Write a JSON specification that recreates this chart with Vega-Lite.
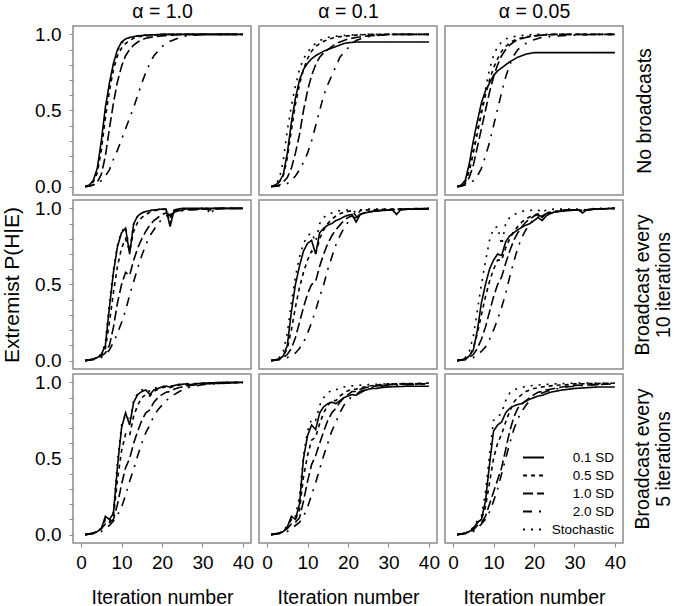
{
"$schema":"https://vega.github.io/schema/vega-lite/v6.json",
"background":"white",
"padding":{"left":0,"top":0,"right":0,"bottom":0},
"bounds":"flush",
"columns":3,
"spacing":{"row":5,"column":8},
"datasets":{"d":[
{"p":1,"s":"0.1 SD","x":1,"y":0},{"p":1,"s":"0.1 SD","x":2,"y":0.01},{"p":1,"s":"0.1 SD","x":3,"y":0.04},{"p":1,"s":"0.1 SD","x":4,"y":0.12},{"p":1,"s":"0.1 SD","x":5,"y":0.3},{"p":1,"s":"0.1 SD","x":6,"y":0.52},{"p":1,"s":"0.1 SD","x":7,"y":0.68},{"p":1,"s":"0.1 SD","x":8,"y":0.81},{"p":1,"s":"0.1 SD","x":9,"y":0.9},{"p":1,"s":"0.1 SD","x":10,"y":0.95},{"p":1,"s":"0.1 SD","x":11,"y":0.97},{"p":1,"s":"0.1 SD","x":12,"y":0.98},{"p":1,"s":"0.1 SD","x":14,"y":0.99},{"p":1,"s":"0.1 SD","x":16,"y":0.995},{"p":1,"s":"0.1 SD","x":20,"y":1},{"p":1,"s":"0.1 SD","x":40,"y":1},
{"p":1,"s":"Stochastic","x":1,"y":0},{"p":1,"s":"Stochastic","x":2,"y":0.01},{"p":1,"s":"Stochastic","x":3,"y":0.035},{"p":1,"s":"Stochastic","x":4,"y":0.1},{"p":1,"s":"Stochastic","x":5,"y":0.27},{"p":1,"s":"Stochastic","x":6,"y":0.48},{"p":1,"s":"Stochastic","x":7,"y":0.66},{"p":1,"s":"Stochastic","x":8,"y":0.8},{"p":1,"s":"Stochastic","x":9,"y":0.89},{"p":1,"s":"Stochastic","x":10,"y":0.94},{"p":1,"s":"Stochastic","x":11,"y":0.97},{"p":1,"s":"Stochastic","x":12,"y":0.98},{"p":1,"s":"Stochastic","x":14,"y":0.99},{"p":1,"s":"Stochastic","x":16,"y":0.995},{"p":1,"s":"Stochastic","x":20,"y":1},{"p":1,"s":"Stochastic","x":40,"y":1},
{"p":1,"s":"0.5 SD","x":1,"y":0},{"p":1,"s":"0.5 SD","x":2,"y":0.01},{"p":1,"s":"0.5 SD","x":3,"y":0.03},{"p":1,"s":"0.5 SD","x":4,"y":0.09},{"p":1,"s":"0.5 SD","x":5,"y":0.24},{"p":1,"s":"0.5 SD","x":6,"y":0.45},{"p":1,"s":"0.5 SD","x":7,"y":0.63},{"p":1,"s":"0.5 SD","x":8,"y":0.77},{"p":1,"s":"0.5 SD","x":9,"y":0.86},{"p":1,"s":"0.5 SD","x":10,"y":0.91},{"p":1,"s":"0.5 SD","x":11,"y":0.94},{"p":1,"s":"0.5 SD","x":12,"y":0.96},{"p":1,"s":"0.5 SD","x":13,"y":0.975},{"p":1,"s":"0.5 SD","x":14,"y":0.985},{"p":1,"s":"0.5 SD","x":16,"y":0.99},{"p":1,"s":"0.5 SD","x":18,"y":0.995},{"p":1,"s":"0.5 SD","x":20,"y":1},{"p":1,"s":"0.5 SD","x":40,"y":1},
{"p":1,"s":"1.0 SD","x":1,"y":0},{"p":1,"s":"1.0 SD","x":2,"y":0.005},{"p":1,"s":"1.0 SD","x":3,"y":0.01},{"p":1,"s":"1.0 SD","x":4,"y":0.03},{"p":1,"s":"1.0 SD","x":5,"y":0.08},{"p":1,"s":"1.0 SD","x":6,"y":0.2},{"p":1,"s":"1.0 SD","x":7,"y":0.38},{"p":1,"s":"1.0 SD","x":8,"y":0.55},{"p":1,"s":"1.0 SD","x":9,"y":0.69},{"p":1,"s":"1.0 SD","x":10,"y":0.79},{"p":1,"s":"1.0 SD","x":11,"y":0.86},{"p":1,"s":"1.0 SD","x":12,"y":0.9},{"p":1,"s":"1.0 SD","x":13,"y":0.93},{"p":1,"s":"1.0 SD","x":14,"y":0.95},{"p":1,"s":"1.0 SD","x":15,"y":0.965},{"p":1,"s":"1.0 SD","x":16,"y":0.975},{"p":1,"s":"1.0 SD","x":18,"y":0.985},{"p":1,"s":"1.0 SD","x":20,"y":0.99},{"p":1,"s":"1.0 SD","x":22,"y":0.995},{"p":1,"s":"1.0 SD","x":25,"y":1},{"p":1,"s":"1.0 SD","x":40,"y":1},
{"p":1,"s":"2.0 SD","x":1,"y":0},{"p":1,"s":"2.0 SD","x":2,"y":0.003},{"p":1,"s":"2.0 SD","x":3,"y":0.01},{"p":1,"s":"2.0 SD","x":4,"y":0.02},{"p":1,"s":"2.0 SD","x":5,"y":0.04},{"p":1,"s":"2.0 SD","x":6,"y":0.07},{"p":1,"s":"2.0 SD","x":7,"y":0.11},{"p":1,"s":"2.0 SD","x":8,"y":0.18},{"p":1,"s":"2.0 SD","x":9,"y":0.24},{"p":1,"s":"2.0 SD","x":10,"y":0.31},{"p":1,"s":"2.0 SD","x":11,"y":0.38},{"p":1,"s":"2.0 SD","x":12,"y":0.45},{"p":1,"s":"2.0 SD","x":13,"y":0.52},{"p":1,"s":"2.0 SD","x":14,"y":0.6},{"p":1,"s":"2.0 SD","x":15,"y":0.68},{"p":1,"s":"2.0 SD","x":16,"y":0.75},{"p":1,"s":"2.0 SD","x":17,"y":0.81},{"p":1,"s":"2.0 SD","x":18,"y":0.86},{"p":1,"s":"2.0 SD","x":19,"y":0.89},{"p":1,"s":"2.0 SD","x":20,"y":0.92},{"p":1,"s":"2.0 SD","x":21,"y":0.94},{"p":1,"s":"2.0 SD","x":22,"y":0.955},{"p":1,"s":"2.0 SD","x":23,"y":0.965},{"p":1,"s":"2.0 SD","x":24,"y":0.975},{"p":1,"s":"2.0 SD","x":25,"y":0.985},{"p":1,"s":"2.0 SD","x":26,"y":0.99},{"p":1,"s":"2.0 SD","x":28,"y":0.995},{"p":1,"s":"2.0 SD","x":30,"y":1},{"p":1,"s":"2.0 SD","x":40,"y":1},

{"p":2,"s":"0.1 SD","x":1,"y":0},{"p":2,"s":"0.1 SD","x":2,"y":0.01},{"p":2,"s":"0.1 SD","x":3,"y":0.03},{"p":2,"s":"0.1 SD","x":4,"y":0.08},{"p":2,"s":"0.1 SD","x":5,"y":0.22},{"p":2,"s":"0.1 SD","x":6,"y":0.42},{"p":2,"s":"0.1 SD","x":7,"y":0.58},{"p":2,"s":"0.1 SD","x":8,"y":0.7},{"p":2,"s":"0.1 SD","x":9,"y":0.77},{"p":2,"s":"0.1 SD","x":10,"y":0.81},{"p":2,"s":"0.1 SD","x":11,"y":0.84},{"p":2,"s":"0.1 SD","x":12,"y":0.86},{"p":2,"s":"0.1 SD","x":13,"y":0.875},{"p":2,"s":"0.1 SD","x":14,"y":0.89},{"p":2,"s":"0.1 SD","x":15,"y":0.9},{"p":2,"s":"0.1 SD","x":16,"y":0.91},{"p":2,"s":"0.1 SD","x":17,"y":0.92},{"p":2,"s":"0.1 SD","x":18,"y":0.93},{"p":2,"s":"0.1 SD","x":19,"y":0.94},{"p":2,"s":"0.1 SD","x":20,"y":0.945},{"p":2,"s":"0.1 SD","x":22,"y":0.95},{"p":2,"s":"0.1 SD","x":40,"y":0.95},
{"p":2,"s":"Stochastic","x":1,"y":0},{"p":2,"s":"Stochastic","x":2,"y":0.01},{"p":2,"s":"Stochastic","x":3,"y":0.05},{"p":2,"s":"Stochastic","x":4,"y":0.17},{"p":2,"s":"Stochastic","x":5,"y":0.37},{"p":2,"s":"Stochastic","x":6,"y":0.53},{"p":2,"s":"Stochastic","x":7,"y":0.66},{"p":2,"s":"Stochastic","x":8,"y":0.77},{"p":2,"s":"Stochastic","x":9,"y":0.84},{"p":2,"s":"Stochastic","x":10,"y":0.88},{"p":2,"s":"Stochastic","x":11,"y":0.92},{"p":2,"s":"Stochastic","x":12,"y":0.94},{"p":2,"s":"Stochastic","x":13,"y":0.96},{"p":2,"s":"Stochastic","x":14,"y":0.97},{"p":2,"s":"Stochastic","x":15,"y":0.98},{"p":2,"s":"Stochastic","x":16,"y":0.985},{"p":2,"s":"Stochastic","x":18,"y":0.99},{"p":2,"s":"Stochastic","x":20,"y":0.995},{"p":2,"s":"Stochastic","x":25,"y":1},{"p":2,"s":"Stochastic","x":40,"y":1},
{"p":2,"s":"0.5 SD","x":1,"y":0},{"p":2,"s":"0.5 SD","x":2,"y":0.01},{"p":2,"s":"0.5 SD","x":3,"y":0.03},{"p":2,"s":"0.5 SD","x":4,"y":0.07},{"p":2,"s":"0.5 SD","x":5,"y":0.19},{"p":2,"s":"0.5 SD","x":6,"y":0.37},{"p":2,"s":"0.5 SD","x":7,"y":0.54},{"p":2,"s":"0.5 SD","x":8,"y":0.67},{"p":2,"s":"0.5 SD","x":9,"y":0.77},{"p":2,"s":"0.5 SD","x":10,"y":0.84},{"p":2,"s":"0.5 SD","x":11,"y":0.89},{"p":2,"s":"0.5 SD","x":12,"y":0.92},{"p":2,"s":"0.5 SD","x":13,"y":0.94},{"p":2,"s":"0.5 SD","x":14,"y":0.955},{"p":2,"s":"0.5 SD","x":15,"y":0.965},{"p":2,"s":"0.5 SD","x":16,"y":0.975},{"p":2,"s":"0.5 SD","x":18,"y":0.985},{"p":2,"s":"0.5 SD","x":20,"y":0.99},{"p":2,"s":"0.5 SD","x":22,"y":0.995},{"p":2,"s":"0.5 SD","x":25,"y":1},{"p":2,"s":"0.5 SD","x":40,"y":1},
{"p":2,"s":"1.0 SD","x":1,"y":0},{"p":2,"s":"1.0 SD","x":2,"y":0.005},{"p":2,"s":"1.0 SD","x":3,"y":0.01},{"p":2,"s":"1.0 SD","x":4,"y":0.03},{"p":2,"s":"1.0 SD","x":5,"y":0.06},{"p":2,"s":"1.0 SD","x":6,"y":0.12},{"p":2,"s":"1.0 SD","x":7,"y":0.22},{"p":2,"s":"1.0 SD","x":8,"y":0.34},{"p":2,"s":"1.0 SD","x":9,"y":0.5},{"p":2,"s":"1.0 SD","x":10,"y":0.63},{"p":2,"s":"1.0 SD","x":11,"y":0.73},{"p":2,"s":"1.0 SD","x":12,"y":0.8},{"p":2,"s":"1.0 SD","x":13,"y":0.85},{"p":2,"s":"1.0 SD","x":14,"y":0.88},{"p":2,"s":"1.0 SD","x":15,"y":0.9},{"p":2,"s":"1.0 SD","x":16,"y":0.92},{"p":2,"s":"1.0 SD","x":17,"y":0.94},{"p":2,"s":"1.0 SD","x":18,"y":0.95},{"p":2,"s":"1.0 SD","x":20,"y":0.97},{"p":2,"s":"1.0 SD","x":22,"y":0.98},{"p":2,"s":"1.0 SD","x":25,"y":0.99},{"p":2,"s":"1.0 SD","x":30,"y":1},{"p":2,"s":"1.0 SD","x":40,"y":1},
{"p":2,"s":"2.0 SD","x":1,"y":0},{"p":2,"s":"2.0 SD","x":3,"y":0.005},{"p":2,"s":"2.0 SD","x":4,"y":0.01},{"p":2,"s":"2.0 SD","x":5,"y":0.02},{"p":2,"s":"2.0 SD","x":6,"y":0.04},{"p":2,"s":"2.0 SD","x":7,"y":0.07},{"p":2,"s":"2.0 SD","x":8,"y":0.11},{"p":2,"s":"2.0 SD","x":9,"y":0.16},{"p":2,"s":"2.0 SD","x":10,"y":0.22},{"p":2,"s":"2.0 SD","x":11,"y":0.3},{"p":2,"s":"2.0 SD","x":12,"y":0.4},{"p":2,"s":"2.0 SD","x":13,"y":0.5},{"p":2,"s":"2.0 SD","x":14,"y":0.6},{"p":2,"s":"2.0 SD","x":15,"y":0.67},{"p":2,"s":"2.0 SD","x":16,"y":0.73},{"p":2,"s":"2.0 SD","x":17,"y":0.79},{"p":2,"s":"2.0 SD","x":18,"y":0.85},{"p":2,"s":"2.0 SD","x":19,"y":0.88},{"p":2,"s":"2.0 SD","x":20,"y":0.91},{"p":2,"s":"2.0 SD","x":21,"y":0.94},{"p":2,"s":"2.0 SD","x":22,"y":0.96},{"p":2,"s":"2.0 SD","x":23,"y":0.97},{"p":2,"s":"2.0 SD","x":24,"y":0.98},{"p":2,"s":"2.0 SD","x":26,"y":0.99},{"p":2,"s":"2.0 SD","x":30,"y":1},{"p":2,"s":"2.0 SD","x":40,"y":1},

{"p":3,"s":"0.1 SD","x":1,"y":0},{"p":3,"s":"0.1 SD","x":2,"y":0.01},{"p":3,"s":"0.1 SD","x":3,"y":0.04},{"p":3,"s":"0.1 SD","x":4,"y":0.15},{"p":3,"s":"0.1 SD","x":5,"y":0.3},{"p":3,"s":"0.1 SD","x":6,"y":0.43},{"p":3,"s":"0.1 SD","x":7,"y":0.55},{"p":3,"s":"0.1 SD","x":8,"y":0.63},{"p":3,"s":"0.1 SD","x":9,"y":0.68},{"p":3,"s":"0.1 SD","x":10,"y":0.73},{"p":3,"s":"0.1 SD","x":11,"y":0.76},{"p":3,"s":"0.1 SD","x":12,"y":0.78},{"p":3,"s":"0.1 SD","x":13,"y":0.8},{"p":3,"s":"0.1 SD","x":14,"y":0.82},{"p":3,"s":"0.1 SD","x":15,"y":0.835},{"p":3,"s":"0.1 SD","x":16,"y":0.85},{"p":3,"s":"0.1 SD","x":17,"y":0.86},{"p":3,"s":"0.1 SD","x":18,"y":0.87},{"p":3,"s":"0.1 SD","x":19,"y":0.875},{"p":3,"s":"0.1 SD","x":20,"y":0.88},{"p":3,"s":"0.1 SD","x":40,"y":0.88},
{"p":3,"s":"Stochastic","x":1,"y":0},{"p":3,"s":"Stochastic","x":2,"y":0.01},{"p":3,"s":"Stochastic","x":3,"y":0.04},{"p":3,"s":"Stochastic","x":4,"y":0.12},{"p":3,"s":"Stochastic","x":5,"y":0.25},{"p":3,"s":"Stochastic","x":6,"y":0.38},{"p":3,"s":"Stochastic","x":7,"y":0.51},{"p":3,"s":"Stochastic","x":8,"y":0.64},{"p":3,"s":"Stochastic","x":9,"y":0.77},{"p":3,"s":"Stochastic","x":10,"y":0.86},{"p":3,"s":"Stochastic","x":11,"y":0.92},{"p":3,"s":"Stochastic","x":12,"y":0.95},{"p":3,"s":"Stochastic","x":13,"y":0.97},{"p":3,"s":"Stochastic","x":14,"y":0.98},{"p":3,"s":"Stochastic","x":15,"y":0.985},{"p":3,"s":"Stochastic","x":16,"y":0.99},{"p":3,"s":"Stochastic","x":18,"y":0.995},{"p":3,"s":"Stochastic","x":20,"y":1},{"p":3,"s":"Stochastic","x":40,"y":1},
{"p":3,"s":"0.5 SD","x":1,"y":0},{"p":3,"s":"0.5 SD","x":2,"y":0.01},{"p":3,"s":"0.5 SD","x":3,"y":0.03},{"p":3,"s":"0.5 SD","x":4,"y":0.1},{"p":3,"s":"0.5 SD","x":5,"y":0.22},{"p":3,"s":"0.5 SD","x":6,"y":0.35},{"p":3,"s":"0.5 SD","x":7,"y":0.48},{"p":3,"s":"0.5 SD","x":8,"y":0.6},{"p":3,"s":"0.5 SD","x":9,"y":0.7},{"p":3,"s":"0.5 SD","x":10,"y":0.78},{"p":3,"s":"0.5 SD","x":11,"y":0.84},{"p":3,"s":"0.5 SD","x":12,"y":0.89},{"p":3,"s":"0.5 SD","x":13,"y":0.92},{"p":3,"s":"0.5 SD","x":14,"y":0.945},{"p":3,"s":"0.5 SD","x":15,"y":0.96},{"p":3,"s":"0.5 SD","x":16,"y":0.97},{"p":3,"s":"0.5 SD","x":18,"y":0.985},{"p":3,"s":"0.5 SD","x":20,"y":0.99},{"p":3,"s":"0.5 SD","x":22,"y":0.995},{"p":3,"s":"0.5 SD","x":25,"y":1},{"p":3,"s":"0.5 SD","x":40,"y":1},
{"p":3,"s":"1.0 SD","x":1,"y":0},{"p":3,"s":"1.0 SD","x":2,"y":0.005},{"p":3,"s":"1.0 SD","x":3,"y":0.02},{"p":3,"s":"1.0 SD","x":4,"y":0.06},{"p":3,"s":"1.0 SD","x":5,"y":0.14},{"p":3,"s":"1.0 SD","x":6,"y":0.26},{"p":3,"s":"1.0 SD","x":7,"y":0.38},{"p":3,"s":"1.0 SD","x":8,"y":0.5},{"p":3,"s":"1.0 SD","x":9,"y":0.62},{"p":3,"s":"1.0 SD","x":10,"y":0.72},{"p":3,"s":"1.0 SD","x":11,"y":0.8},{"p":3,"s":"1.0 SD","x":12,"y":0.86},{"p":3,"s":"1.0 SD","x":13,"y":0.9},{"p":3,"s":"1.0 SD","x":14,"y":0.93},{"p":3,"s":"1.0 SD","x":15,"y":0.95},{"p":3,"s":"1.0 SD","x":16,"y":0.965},{"p":3,"s":"1.0 SD","x":18,"y":0.98},{"p":3,"s":"1.0 SD","x":20,"y":0.99},{"p":3,"s":"1.0 SD","x":22,"y":0.995},{"p":3,"s":"1.0 SD","x":25,"y":1},{"p":3,"s":"1.0 SD","x":40,"y":1},
{"p":3,"s":"2.0 SD","x":1,"y":0},{"p":3,"s":"2.0 SD","x":2,"y":0.003},{"p":3,"s":"2.0 SD","x":3,"y":0.01},{"p":3,"s":"2.0 SD","x":4,"y":0.02},{"p":3,"s":"2.0 SD","x":5,"y":0.04},{"p":3,"s":"2.0 SD","x":6,"y":0.07},{"p":3,"s":"2.0 SD","x":7,"y":0.12},{"p":3,"s":"2.0 SD","x":8,"y":0.2},{"p":3,"s":"2.0 SD","x":9,"y":0.29},{"p":3,"s":"2.0 SD","x":10,"y":0.4},{"p":3,"s":"2.0 SD","x":11,"y":0.51},{"p":3,"s":"2.0 SD","x":12,"y":0.62},{"p":3,"s":"2.0 SD","x":13,"y":0.72},{"p":3,"s":"2.0 SD","x":14,"y":0.8},{"p":3,"s":"2.0 SD","x":15,"y":0.86},{"p":3,"s":"2.0 SD","x":16,"y":0.9},{"p":3,"s":"2.0 SD","x":17,"y":0.92},{"p":3,"s":"2.0 SD","x":18,"y":0.94},{"p":3,"s":"2.0 SD","x":19,"y":0.955},{"p":3,"s":"2.0 SD","x":20,"y":0.965},{"p":3,"s":"2.0 SD","x":22,"y":0.98},{"p":3,"s":"2.0 SD","x":24,"y":0.985},{"p":3,"s":"2.0 SD","x":26,"y":0.99},{"p":3,"s":"2.0 SD","x":30,"y":0.995},{"p":3,"s":"2.0 SD","x":35,"y":1},{"p":3,"s":"2.0 SD","x":40,"y":1},

{"p":4,"s":"0.1 SD","x":1,"y":0},{"p":4,"s":"0.1 SD","x":2,"y":0.005},{"p":4,"s":"0.1 SD","x":3,"y":0.01},{"p":4,"s":"0.1 SD","x":4,"y":0.02},{"p":4,"s":"0.1 SD","x":5,"y":0.04},{"p":4,"s":"0.1 SD","x":6,"y":0.1},{"p":4,"s":"0.1 SD","x":7,"y":0.35},{"p":4,"s":"0.1 SD","x":8,"y":0.58},{"p":4,"s":"0.1 SD","x":9,"y":0.75},{"p":4,"s":"0.1 SD","x":10,"y":0.84},{"p":4,"s":"0.1 SD","x":11,"y":0.87},{"p":4,"s":"0.1 SD","x":12,"y":0.7},{"p":4,"s":"0.1 SD","x":13,"y":0.9},{"p":4,"s":"0.1 SD","x":14,"y":0.95},{"p":4,"s":"0.1 SD","x":15,"y":0.97},{"p":4,"s":"0.1 SD","x":16,"y":0.98},{"p":4,"s":"0.1 SD","x":17,"y":0.985},{"p":4,"s":"0.1 SD","x":18,"y":0.99},{"p":4,"s":"0.1 SD","x":20,"y":0.995},{"p":4,"s":"0.1 SD","x":21,"y":0.995},{"p":4,"s":"0.1 SD","x":22,"y":0.88},{"p":4,"s":"0.1 SD","x":23,"y":0.99},{"p":4,"s":"0.1 SD","x":24,"y":0.995},{"p":4,"s":"0.1 SD","x":25,"y":1},{"p":4,"s":"0.1 SD","x":40,"y":1},
{"p":4,"s":"Stochastic","x":1,"y":0},{"p":4,"s":"Stochastic","x":2,"y":0.005},{"p":4,"s":"Stochastic","x":3,"y":0.01},{"p":4,"s":"Stochastic","x":4,"y":0.02},{"p":4,"s":"Stochastic","x":5,"y":0.04},{"p":4,"s":"Stochastic","x":6,"y":0.12},{"p":4,"s":"Stochastic","x":7,"y":0.38},{"p":4,"s":"Stochastic","x":8,"y":0.6},{"p":4,"s":"Stochastic","x":9,"y":0.76},{"p":4,"s":"Stochastic","x":10,"y":0.85},{"p":4,"s":"Stochastic","x":11,"y":0.88},{"p":4,"s":"Stochastic","x":12,"y":0.72},{"p":4,"s":"Stochastic","x":13,"y":0.9},{"p":4,"s":"Stochastic","x":14,"y":0.95},{"p":4,"s":"Stochastic","x":15,"y":0.97},{"p":4,"s":"Stochastic","x":16,"y":0.98},{"p":4,"s":"Stochastic","x":18,"y":0.99},{"p":4,"s":"Stochastic","x":20,"y":0.995},{"p":4,"s":"Stochastic","x":21,"y":0.995},{"p":4,"s":"Stochastic","x":22,"y":0.9},{"p":4,"s":"Stochastic","x":23,"y":0.99},{"p":4,"s":"Stochastic","x":25,"y":0.995},{"p":4,"s":"Stochastic","x":30,"y":1},{"p":4,"s":"Stochastic","x":31,"y":1},{"p":4,"s":"Stochastic","x":32,"y":0.96},{"p":4,"s":"Stochastic","x":33,"y":1},{"p":4,"s":"Stochastic","x":40,"y":1},
{"p":4,"s":"0.5 SD","x":1,"y":0},{"p":4,"s":"0.5 SD","x":2,"y":0.005},{"p":4,"s":"0.5 SD","x":3,"y":0.01},{"p":4,"s":"0.5 SD","x":4,"y":0.02},{"p":4,"s":"0.5 SD","x":5,"y":0.04},{"p":4,"s":"0.5 SD","x":6,"y":0.08},{"p":4,"s":"0.5 SD","x":7,"y":0.25},{"p":4,"s":"0.5 SD","x":8,"y":0.45},{"p":4,"s":"0.5 SD","x":9,"y":0.62},{"p":4,"s":"0.5 SD","x":10,"y":0.74},{"p":4,"s":"0.5 SD","x":11,"y":0.8},{"p":4,"s":"0.5 SD","x":12,"y":0.72},{"p":4,"s":"0.5 SD","x":13,"y":0.85},{"p":4,"s":"0.5 SD","x":14,"y":0.91},{"p":4,"s":"0.5 SD","x":15,"y":0.94},{"p":4,"s":"0.5 SD","x":16,"y":0.96},{"p":4,"s":"0.5 SD","x":17,"y":0.975},{"p":4,"s":"0.5 SD","x":18,"y":0.985},{"p":4,"s":"0.5 SD","x":19,"y":0.99},{"p":4,"s":"0.5 SD","x":21,"y":0.995},{"p":4,"s":"0.5 SD","x":22,"y":0.93},{"p":4,"s":"0.5 SD","x":23,"y":0.985},{"p":4,"s":"0.5 SD","x":24,"y":0.99},{"p":4,"s":"0.5 SD","x":26,"y":0.995},{"p":4,"s":"0.5 SD","x":31,"y":1},{"p":4,"s":"0.5 SD","x":32,"y":0.99},{"p":4,"s":"0.5 SD","x":33,"y":1},{"p":4,"s":"0.5 SD","x":40,"y":1},
{"p":4,"s":"1.0 SD","x":1,"y":0},{"p":4,"s":"1.0 SD","x":2,"y":0.005},{"p":4,"s":"1.0 SD","x":3,"y":0.01},{"p":4,"s":"1.0 SD","x":4,"y":0.02},{"p":4,"s":"1.0 SD","x":5,"y":0.03},{"p":4,"s":"1.0 SD","x":6,"y":0.05},{"p":4,"s":"1.0 SD","x":7,"y":0.1},{"p":4,"s":"1.0 SD","x":8,"y":0.22},{"p":4,"s":"1.0 SD","x":9,"y":0.38},{"p":4,"s":"1.0 SD","x":10,"y":0.5},{"p":4,"s":"1.0 SD","x":11,"y":0.58},{"p":4,"s":"1.0 SD","x":12,"y":0.56},{"p":4,"s":"1.0 SD","x":13,"y":0.66},{"p":4,"s":"1.0 SD","x":14,"y":0.74},{"p":4,"s":"1.0 SD","x":15,"y":0.8},{"p":4,"s":"1.0 SD","x":16,"y":0.85},{"p":4,"s":"1.0 SD","x":17,"y":0.89},{"p":4,"s":"1.0 SD","x":18,"y":0.92},{"p":4,"s":"1.0 SD","x":19,"y":0.94},{"p":4,"s":"1.0 SD","x":20,"y":0.96},{"p":4,"s":"1.0 SD","x":21,"y":0.97},{"p":4,"s":"1.0 SD","x":22,"y":0.95},{"p":4,"s":"1.0 SD","x":23,"y":0.975},{"p":4,"s":"1.0 SD","x":24,"y":0.985},{"p":4,"s":"1.0 SD","x":26,"y":0.99},{"p":4,"s":"1.0 SD","x":31,"y":0.995},{"p":4,"s":"1.0 SD","x":32,"y":0.99},{"p":4,"s":"1.0 SD","x":33,"y":0.995},{"p":4,"s":"1.0 SD","x":35,"y":1},{"p":4,"s":"1.0 SD","x":40,"y":1},
{"p":4,"s":"2.0 SD","x":1,"y":0},{"p":4,"s":"2.0 SD","x":2,"y":0.003},{"p":4,"s":"2.0 SD","x":3,"y":0.006},{"p":4,"s":"2.0 SD","x":4,"y":0.01},{"p":4,"s":"2.0 SD","x":5,"y":0.02},{"p":4,"s":"2.0 SD","x":6,"y":0.04},{"p":4,"s":"2.0 SD","x":7,"y":0.07},{"p":4,"s":"2.0 SD","x":8,"y":0.12},{"p":4,"s":"2.0 SD","x":9,"y":0.18},{"p":4,"s":"2.0 SD","x":10,"y":0.25},{"p":4,"s":"2.0 SD","x":11,"y":0.33},{"p":4,"s":"2.0 SD","x":12,"y":0.43},{"p":4,"s":"2.0 SD","x":13,"y":0.52},{"p":4,"s":"2.0 SD","x":14,"y":0.61},{"p":4,"s":"2.0 SD","x":15,"y":0.69},{"p":4,"s":"2.0 SD","x":16,"y":0.76},{"p":4,"s":"2.0 SD","x":17,"y":0.82},{"p":4,"s":"2.0 SD","x":18,"y":0.86},{"p":4,"s":"2.0 SD","x":19,"y":0.9},{"p":4,"s":"2.0 SD","x":20,"y":0.93},{"p":4,"s":"2.0 SD","x":21,"y":0.95},{"p":4,"s":"2.0 SD","x":22,"y":0.96},{"p":4,"s":"2.0 SD","x":23,"y":0.97},{"p":4,"s":"2.0 SD","x":24,"y":0.98},{"p":4,"s":"2.0 SD","x":26,"y":0.99},{"p":4,"s":"2.0 SD","x":30,"y":0.995},{"p":4,"s":"2.0 SD","x":35,"y":1},{"p":4,"s":"2.0 SD","x":40,"y":1},

{"p":5,"s":"0.1 SD","x":1,"y":0},{"p":5,"s":"0.1 SD","x":2,"y":0.005},{"p":5,"s":"0.1 SD","x":3,"y":0.01},{"p":5,"s":"0.1 SD","x":4,"y":0.03},{"p":5,"s":"0.1 SD","x":5,"y":0.1},{"p":5,"s":"0.1 SD","x":6,"y":0.32},{"p":5,"s":"0.1 SD","x":7,"y":0.5},{"p":5,"s":"0.1 SD","x":8,"y":0.62},{"p":5,"s":"0.1 SD","x":9,"y":0.72},{"p":5,"s":"0.1 SD","x":10,"y":0.77},{"p":5,"s":"0.1 SD","x":11,"y":0.79},{"p":5,"s":"0.1 SD","x":12,"y":0.7},{"p":5,"s":"0.1 SD","x":13,"y":0.84},{"p":5,"s":"0.1 SD","x":14,"y":0.87},{"p":5,"s":"0.1 SD","x":15,"y":0.89},{"p":5,"s":"0.1 SD","x":16,"y":0.9},{"p":5,"s":"0.1 SD","x":17,"y":0.92},{"p":5,"s":"0.1 SD","x":18,"y":0.93},{"p":5,"s":"0.1 SD","x":19,"y":0.945},{"p":5,"s":"0.1 SD","x":20,"y":0.955},{"p":5,"s":"0.1 SD","x":21,"y":0.96},{"p":5,"s":"0.1 SD","x":22,"y":0.91},{"p":5,"s":"0.1 SD","x":23,"y":0.96},{"p":5,"s":"0.1 SD","x":24,"y":0.97},{"p":5,"s":"0.1 SD","x":25,"y":0.975},{"p":5,"s":"0.1 SD","x":26,"y":0.98},{"p":5,"s":"0.1 SD","x":28,"y":0.985},{"p":5,"s":"0.1 SD","x":31,"y":0.99},{"p":5,"s":"0.1 SD","x":32,"y":0.96},{"p":5,"s":"0.1 SD","x":33,"y":0.99},{"p":5,"s":"0.1 SD","x":35,"y":0.995},{"p":5,"s":"0.1 SD","x":40,"y":0.995},
{"p":5,"s":"Stochastic","x":1,"y":0},{"p":5,"s":"Stochastic","x":2,"y":0.005},{"p":5,"s":"Stochastic","x":3,"y":0.02},{"p":5,"s":"Stochastic","x":4,"y":0.06},{"p":5,"s":"Stochastic","x":5,"y":0.18},{"p":5,"s":"Stochastic","x":6,"y":0.38},{"p":5,"s":"Stochastic","x":7,"y":0.55},{"p":5,"s":"Stochastic","x":8,"y":0.68},{"p":5,"s":"Stochastic","x":9,"y":0.77},{"p":5,"s":"Stochastic","x":10,"y":0.82},{"p":5,"s":"Stochastic","x":11,"y":0.84},{"p":5,"s":"Stochastic","x":12,"y":0.78},{"p":5,"s":"Stochastic","x":13,"y":0.9},{"p":5,"s":"Stochastic","x":14,"y":0.94},{"p":5,"s":"Stochastic","x":15,"y":0.96},{"p":5,"s":"Stochastic","x":16,"y":0.97},{"p":5,"s":"Stochastic","x":17,"y":0.98},{"p":5,"s":"Stochastic","x":18,"y":0.985},{"p":5,"s":"Stochastic","x":21,"y":0.99},{"p":5,"s":"Stochastic","x":22,"y":0.97},{"p":5,"s":"Stochastic","x":23,"y":0.99},{"p":5,"s":"Stochastic","x":25,"y":0.995},{"p":5,"s":"Stochastic","x":31,"y":0.995},{"p":5,"s":"Stochastic","x":32,"y":0.99},{"p":5,"s":"Stochastic","x":33,"y":0.995},{"p":5,"s":"Stochastic","x":40,"y":1},
{"p":5,"s":"0.5 SD","x":1,"y":0},{"p":5,"s":"0.5 SD","x":2,"y":0.005},{"p":5,"s":"0.5 SD","x":3,"y":0.01},{"p":5,"s":"0.5 SD","x":4,"y":0.03},{"p":5,"s":"0.5 SD","x":5,"y":0.08},{"p":5,"s":"0.5 SD","x":6,"y":0.2},{"p":5,"s":"0.5 SD","x":7,"y":0.35},{"p":5,"s":"0.5 SD","x":8,"y":0.48},{"p":5,"s":"0.5 SD","x":9,"y":0.58},{"p":5,"s":"0.5 SD","x":10,"y":0.66},{"p":5,"s":"0.5 SD","x":11,"y":0.72},{"p":5,"s":"0.5 SD","x":12,"y":0.7},{"p":5,"s":"0.5 SD","x":13,"y":0.8},{"p":5,"s":"0.5 SD","x":14,"y":0.86},{"p":5,"s":"0.5 SD","x":15,"y":0.9},{"p":5,"s":"0.5 SD","x":16,"y":0.93},{"p":5,"s":"0.5 SD","x":17,"y":0.95},{"p":5,"s":"0.5 SD","x":18,"y":0.965},{"p":5,"s":"0.5 SD","x":19,"y":0.975},{"p":5,"s":"0.5 SD","x":20,"y":0.98},{"p":5,"s":"0.5 SD","x":21,"y":0.985},{"p":5,"s":"0.5 SD","x":22,"y":0.95},{"p":5,"s":"0.5 SD","x":23,"y":0.985},{"p":5,"s":"0.5 SD","x":25,"y":0.99},{"p":5,"s":"0.5 SD","x":30,"y":0.995},{"p":5,"s":"0.5 SD","x":40,"y":1},
{"p":5,"s":"1.0 SD","x":1,"y":0},{"p":5,"s":"1.0 SD","x":2,"y":0.005},{"p":5,"s":"1.0 SD","x":3,"y":0.01},{"p":5,"s":"1.0 SD","x":4,"y":0.02},{"p":5,"s":"1.0 SD","x":5,"y":0.04},{"p":5,"s":"1.0 SD","x":6,"y":0.08},{"p":5,"s":"1.0 SD","x":7,"y":0.15},{"p":5,"s":"1.0 SD","x":8,"y":0.25},{"p":5,"s":"1.0 SD","x":9,"y":0.35},{"p":5,"s":"1.0 SD","x":10,"y":0.44},{"p":5,"s":"1.0 SD","x":11,"y":0.5},{"p":5,"s":"1.0 SD","x":12,"y":0.52},{"p":5,"s":"1.0 SD","x":13,"y":0.62},{"p":5,"s":"1.0 SD","x":14,"y":0.7},{"p":5,"s":"1.0 SD","x":15,"y":0.77},{"p":5,"s":"1.0 SD","x":16,"y":0.82},{"p":5,"s":"1.0 SD","x":17,"y":0.86},{"p":5,"s":"1.0 SD","x":18,"y":0.89},{"p":5,"s":"1.0 SD","x":19,"y":0.92},{"p":5,"s":"1.0 SD","x":20,"y":0.94},{"p":5,"s":"1.0 SD","x":21,"y":0.95},{"p":5,"s":"1.0 SD","x":22,"y":0.93},{"p":5,"s":"1.0 SD","x":23,"y":0.96},{"p":5,"s":"1.0 SD","x":24,"y":0.97},{"p":5,"s":"1.0 SD","x":25,"y":0.975},{"p":5,"s":"1.0 SD","x":27,"y":0.985},{"p":5,"s":"1.0 SD","x":30,"y":0.99},{"p":5,"s":"1.0 SD","x":35,"y":0.995},{"p":5,"s":"1.0 SD","x":40,"y":1},
{"p":5,"s":"2.0 SD","x":1,"y":0},{"p":5,"s":"2.0 SD","x":2,"y":0.003},{"p":5,"s":"2.0 SD","x":3,"y":0.006},{"p":5,"s":"2.0 SD","x":4,"y":0.01},{"p":5,"s":"2.0 SD","x":5,"y":0.02},{"p":5,"s":"2.0 SD","x":6,"y":0.03},{"p":5,"s":"2.0 SD","x":7,"y":0.05},{"p":5,"s":"2.0 SD","x":8,"y":0.08},{"p":5,"s":"2.0 SD","x":9,"y":0.12},{"p":5,"s":"2.0 SD","x":10,"y":0.18},{"p":5,"s":"2.0 SD","x":11,"y":0.25},{"p":5,"s":"2.0 SD","x":12,"y":0.33},{"p":5,"s":"2.0 SD","x":13,"y":0.42},{"p":5,"s":"2.0 SD","x":14,"y":0.5},{"p":5,"s":"2.0 SD","x":15,"y":0.6},{"p":5,"s":"2.0 SD","x":16,"y":0.68},{"p":5,"s":"2.0 SD","x":17,"y":0.76},{"p":5,"s":"2.0 SD","x":18,"y":0.82},{"p":5,"s":"2.0 SD","x":19,"y":0.87},{"p":5,"s":"2.0 SD","x":20,"y":0.91},{"p":5,"s":"2.0 SD","x":21,"y":0.93},{"p":5,"s":"2.0 SD","x":22,"y":0.94},{"p":5,"s":"2.0 SD","x":23,"y":0.96},{"p":5,"s":"2.0 SD","x":24,"y":0.97},{"p":5,"s":"2.0 SD","x":25,"y":0.98},{"p":5,"s":"2.0 SD","x":27,"y":0.985},{"p":5,"s":"2.0 SD","x":30,"y":0.99},{"p":5,"s":"2.0 SD","x":35,"y":0.995},{"p":5,"s":"2.0 SD","x":40,"y":1},

{"p":6,"s":"0.1 SD","x":1,"y":0},{"p":6,"s":"0.1 SD","x":2,"y":0.005},{"p":6,"s":"0.1 SD","x":3,"y":0.01},{"p":6,"s":"0.1 SD","x":4,"y":0.03},{"p":6,"s":"0.1 SD","x":5,"y":0.07},{"p":6,"s":"0.1 SD","x":6,"y":0.2},{"p":6,"s":"0.1 SD","x":7,"y":0.38},{"p":6,"s":"0.1 SD","x":8,"y":0.5},{"p":6,"s":"0.1 SD","x":9,"y":0.6},{"p":6,"s":"0.1 SD","x":10,"y":0.66},{"p":6,"s":"0.1 SD","x":11,"y":0.7},{"p":6,"s":"0.1 SD","x":12,"y":0.69},{"p":6,"s":"0.1 SD","x":13,"y":0.78},{"p":6,"s":"0.1 SD","x":14,"y":0.82},{"p":6,"s":"0.1 SD","x":15,"y":0.84},{"p":6,"s":"0.1 SD","x":16,"y":0.86},{"p":6,"s":"0.1 SD","x":17,"y":0.875},{"p":6,"s":"0.1 SD","x":18,"y":0.89},{"p":6,"s":"0.1 SD","x":19,"y":0.9},{"p":6,"s":"0.1 SD","x":20,"y":0.92},{"p":6,"s":"0.1 SD","x":21,"y":0.94},{"p":6,"s":"0.1 SD","x":22,"y":0.92},{"p":6,"s":"0.1 SD","x":23,"y":0.95},{"p":6,"s":"0.1 SD","x":24,"y":0.965},{"p":6,"s":"0.1 SD","x":25,"y":0.975},{"p":6,"s":"0.1 SD","x":26,"y":0.98},{"p":6,"s":"0.1 SD","x":28,"y":0.99},{"p":6,"s":"0.1 SD","x":31,"y":0.99},{"p":6,"s":"0.1 SD","x":32,"y":0.97},{"p":6,"s":"0.1 SD","x":33,"y":0.99},{"p":6,"s":"0.1 SD","x":35,"y":0.995},{"p":6,"s":"0.1 SD","x":40,"y":1},
{"p":6,"s":"Stochastic","x":1,"y":0},{"p":6,"s":"Stochastic","x":2,"y":0.005},{"p":6,"s":"Stochastic","x":3,"y":0.02},{"p":6,"s":"Stochastic","x":4,"y":0.06},{"p":6,"s":"Stochastic","x":5,"y":0.16},{"p":6,"s":"Stochastic","x":6,"y":0.33},{"p":6,"s":"Stochastic","x":7,"y":0.5},{"p":6,"s":"Stochastic","x":8,"y":0.65},{"p":6,"s":"Stochastic","x":9,"y":0.79},{"p":6,"s":"Stochastic","x":10,"y":0.87},{"p":6,"s":"Stochastic","x":11,"y":0.88},{"p":6,"s":"Stochastic","x":12,"y":0.76},{"p":6,"s":"Stochastic","x":13,"y":0.9},{"p":6,"s":"Stochastic","x":14,"y":0.94},{"p":6,"s":"Stochastic","x":15,"y":0.96},{"p":6,"s":"Stochastic","x":16,"y":0.97},{"p":6,"s":"Stochastic","x":17,"y":0.98},{"p":6,"s":"Stochastic","x":18,"y":0.985},{"p":6,"s":"Stochastic","x":21,"y":0.99},{"p":6,"s":"Stochastic","x":22,"y":0.97},{"p":6,"s":"Stochastic","x":23,"y":0.99},{"p":6,"s":"Stochastic","x":25,"y":0.995},{"p":6,"s":"Stochastic","x":31,"y":0.995},{"p":6,"s":"Stochastic","x":32,"y":0.99},{"p":6,"s":"Stochastic","x":35,"y":1},{"p":6,"s":"Stochastic","x":40,"y":1},
{"p":6,"s":"0.5 SD","x":1,"y":0},{"p":6,"s":"0.5 SD","x":2,"y":0.005},{"p":6,"s":"0.5 SD","x":3,"y":0.01},{"p":6,"s":"0.5 SD","x":4,"y":0.03},{"p":6,"s":"0.5 SD","x":5,"y":0.08},{"p":6,"s":"0.5 SD","x":6,"y":0.18},{"p":6,"s":"0.5 SD","x":7,"y":0.3},{"p":6,"s":"0.5 SD","x":8,"y":0.42},{"p":6,"s":"0.5 SD","x":9,"y":0.52},{"p":6,"s":"0.5 SD","x":10,"y":0.6},{"p":6,"s":"0.5 SD","x":11,"y":0.66},{"p":6,"s":"0.5 SD","x":12,"y":0.66},{"p":6,"s":"0.5 SD","x":13,"y":0.74},{"p":6,"s":"0.5 SD","x":14,"y":0.8},{"p":6,"s":"0.5 SD","x":15,"y":0.85},{"p":6,"s":"0.5 SD","x":16,"y":0.88},{"p":6,"s":"0.5 SD","x":17,"y":0.91},{"p":6,"s":"0.5 SD","x":18,"y":0.93},{"p":6,"s":"0.5 SD","x":19,"y":0.945},{"p":6,"s":"0.5 SD","x":20,"y":0.955},{"p":6,"s":"0.5 SD","x":21,"y":0.965},{"p":6,"s":"0.5 SD","x":22,"y":0.94},{"p":6,"s":"0.5 SD","x":23,"y":0.97},{"p":6,"s":"0.5 SD","x":25,"y":0.98},{"p":6,"s":"0.5 SD","x":28,"y":0.99},{"p":6,"s":"0.5 SD","x":31,"y":0.99},{"p":6,"s":"0.5 SD","x":32,"y":0.985},{"p":6,"s":"0.5 SD","x":33,"y":0.99},{"p":6,"s":"0.5 SD","x":35,"y":0.995},{"p":6,"s":"0.5 SD","x":40,"y":1},
{"p":6,"s":"1.0 SD","x":1,"y":0},{"p":6,"s":"1.0 SD","x":2,"y":0.005},{"p":6,"s":"1.0 SD","x":3,"y":0.01},{"p":6,"s":"1.0 SD","x":4,"y":0.02},{"p":6,"s":"1.0 SD","x":5,"y":0.04},{"p":6,"s":"1.0 SD","x":6,"y":0.08},{"p":6,"s":"1.0 SD","x":7,"y":0.14},{"p":6,"s":"1.0 SD","x":8,"y":0.22},{"p":6,"s":"1.0 SD","x":9,"y":0.32},{"p":6,"s":"1.0 SD","x":10,"y":0.42},{"p":6,"s":"1.0 SD","x":11,"y":0.5},{"p":6,"s":"1.0 SD","x":12,"y":0.55},{"p":6,"s":"1.0 SD","x":13,"y":0.64},{"p":6,"s":"1.0 SD","x":14,"y":0.72},{"p":6,"s":"1.0 SD","x":15,"y":0.79},{"p":6,"s":"1.0 SD","x":16,"y":0.84},{"p":6,"s":"1.0 SD","x":17,"y":0.88},{"p":6,"s":"1.0 SD","x":18,"y":0.91},{"p":6,"s":"1.0 SD","x":19,"y":0.93},{"p":6,"s":"1.0 SD","x":20,"y":0.95},{"p":6,"s":"1.0 SD","x":21,"y":0.96},{"p":6,"s":"1.0 SD","x":22,"y":0.94},{"p":6,"s":"1.0 SD","x":23,"y":0.965},{"p":6,"s":"1.0 SD","x":25,"y":0.975},{"p":6,"s":"1.0 SD","x":28,"y":0.985},{"p":6,"s":"1.0 SD","x":31,"y":0.99},{"p":6,"s":"1.0 SD","x":32,"y":0.985},{"p":6,"s":"1.0 SD","x":33,"y":0.99},{"p":6,"s":"1.0 SD","x":35,"y":0.995},{"p":6,"s":"1.0 SD","x":40,"y":1},
{"p":6,"s":"2.0 SD","x":1,"y":0},{"p":6,"s":"2.0 SD","x":2,"y":0.003},{"p":6,"s":"2.0 SD","x":3,"y":0.006},{"p":6,"s":"2.0 SD","x":4,"y":0.01},{"p":6,"s":"2.0 SD","x":5,"y":0.02},{"p":6,"s":"2.0 SD","x":6,"y":0.04},{"p":6,"s":"2.0 SD","x":7,"y":0.06},{"p":6,"s":"2.0 SD","x":8,"y":0.09},{"p":6,"s":"2.0 SD","x":9,"y":0.14},{"p":6,"s":"2.0 SD","x":10,"y":0.2},{"p":6,"s":"2.0 SD","x":11,"y":0.27},{"p":6,"s":"2.0 SD","x":12,"y":0.35},{"p":6,"s":"2.0 SD","x":13,"y":0.44},{"p":6,"s":"2.0 SD","x":14,"y":0.55},{"p":6,"s":"2.0 SD","x":15,"y":0.65},{"p":6,"s":"2.0 SD","x":16,"y":0.74},{"p":6,"s":"2.0 SD","x":17,"y":0.81},{"p":6,"s":"2.0 SD","x":18,"y":0.86},{"p":6,"s":"2.0 SD","x":19,"y":0.9},{"p":6,"s":"2.0 SD","x":20,"y":0.93},{"p":6,"s":"2.0 SD","x":21,"y":0.95},{"p":6,"s":"2.0 SD","x":22,"y":0.95},{"p":6,"s":"2.0 SD","x":23,"y":0.965},{"p":6,"s":"2.0 SD","x":25,"y":0.975},{"p":6,"s":"2.0 SD","x":28,"y":0.985},{"p":6,"s":"2.0 SD","x":31,"y":0.99},{"p":6,"s":"2.0 SD","x":32,"y":0.985},{"p":6,"s":"2.0 SD","x":33,"y":0.99},{"p":6,"s":"2.0 SD","x":35,"y":0.995},{"p":6,"s":"2.0 SD","x":40,"y":1},

{"p":7,"s":"0.1 SD","x":1,"y":0},{"p":7,"s":"0.1 SD","x":2,"y":0.005},{"p":7,"s":"0.1 SD","x":3,"y":0.01},{"p":7,"s":"0.1 SD","x":4,"y":0.02},{"p":7,"s":"0.1 SD","x":5,"y":0.04},{"p":7,"s":"0.1 SD","x":6,"y":0.12},{"p":7,"s":"0.1 SD","x":7,"y":0.1},{"p":7,"s":"0.1 SD","x":8,"y":0.14},{"p":7,"s":"0.1 SD","x":9,"y":0.45},{"p":7,"s":"0.1 SD","x":10,"y":0.7},{"p":7,"s":"0.1 SD","x":11,"y":0.8},{"p":7,"s":"0.1 SD","x":12,"y":0.72},{"p":7,"s":"0.1 SD","x":13,"y":0.87},{"p":7,"s":"0.1 SD","x":14,"y":0.92},{"p":7,"s":"0.1 SD","x":15,"y":0.94},{"p":7,"s":"0.1 SD","x":16,"y":0.95},{"p":7,"s":"0.1 SD","x":17,"y":0.92},{"p":7,"s":"0.1 SD","x":18,"y":0.95},{"p":7,"s":"0.1 SD","x":19,"y":0.96},{"p":7,"s":"0.1 SD","x":20,"y":0.97},{"p":7,"s":"0.1 SD","x":21,"y":0.975},{"p":7,"s":"0.1 SD","x":22,"y":0.97},{"p":7,"s":"0.1 SD","x":23,"y":0.98},{"p":7,"s":"0.1 SD","x":24,"y":0.985},{"p":7,"s":"0.1 SD","x":26,"y":0.99},{"p":7,"s":"0.1 SD","x":27,"y":0.985},{"p":7,"s":"0.1 SD","x":28,"y":0.99},{"p":7,"s":"0.1 SD","x":30,"y":0.995},{"p":7,"s":"0.1 SD","x":35,"y":1},{"p":7,"s":"0.1 SD","x":40,"y":1},
{"p":7,"s":"Stochastic","x":1,"y":0},{"p":7,"s":"Stochastic","x":2,"y":0.005},{"p":7,"s":"Stochastic","x":3,"y":0.01},{"p":7,"s":"Stochastic","x":4,"y":0.02},{"p":7,"s":"Stochastic","x":5,"y":0.04},{"p":7,"s":"Stochastic","x":6,"y":0.1},{"p":7,"s":"Stochastic","x":7,"y":0.09},{"p":7,"s":"Stochastic","x":8,"y":0.15},{"p":7,"s":"Stochastic","x":9,"y":0.48},{"p":7,"s":"Stochastic","x":10,"y":0.72},{"p":7,"s":"Stochastic","x":11,"y":0.79},{"p":7,"s":"Stochastic","x":12,"y":0.74},{"p":7,"s":"Stochastic","x":13,"y":0.88},{"p":7,"s":"Stochastic","x":14,"y":0.93},{"p":7,"s":"Stochastic","x":15,"y":0.95},{"p":7,"s":"Stochastic","x":16,"y":0.96},{"p":7,"s":"Stochastic","x":17,"y":0.94},{"p":7,"s":"Stochastic","x":18,"y":0.96},{"p":7,"s":"Stochastic","x":20,"y":0.975},{"p":7,"s":"Stochastic","x":22,"y":0.975},{"p":7,"s":"Stochastic","x":25,"y":0.99},{"p":7,"s":"Stochastic","x":30,"y":0.995},{"p":7,"s":"Stochastic","x":35,"y":1},{"p":7,"s":"Stochastic","x":40,"y":1},
{"p":7,"s":"0.5 SD","x":1,"y":0},{"p":7,"s":"0.5 SD","x":2,"y":0.005},{"p":7,"s":"0.5 SD","x":3,"y":0.01},{"p":7,"s":"0.5 SD","x":4,"y":0.02},{"p":7,"s":"0.5 SD","x":5,"y":0.04},{"p":7,"s":"0.5 SD","x":6,"y":0.1},{"p":7,"s":"0.5 SD","x":7,"y":0.08},{"p":7,"s":"0.5 SD","x":8,"y":0.12},{"p":7,"s":"0.5 SD","x":9,"y":0.36},{"p":7,"s":"0.5 SD","x":10,"y":0.55},{"p":7,"s":"0.5 SD","x":11,"y":0.66},{"p":7,"s":"0.5 SD","x":12,"y":0.65},{"p":7,"s":"0.5 SD","x":13,"y":0.78},{"p":7,"s":"0.5 SD","x":14,"y":0.85},{"p":7,"s":"0.5 SD","x":15,"y":0.9},{"p":7,"s":"0.5 SD","x":16,"y":0.92},{"p":7,"s":"0.5 SD","x":17,"y":0.91},{"p":7,"s":"0.5 SD","x":18,"y":0.94},{"p":7,"s":"0.5 SD","x":19,"y":0.955},{"p":7,"s":"0.5 SD","x":20,"y":0.965},{"p":7,"s":"0.5 SD","x":21,"y":0.97},{"p":7,"s":"0.5 SD","x":22,"y":0.965},{"p":7,"s":"0.5 SD","x":23,"y":0.975},{"p":7,"s":"0.5 SD","x":25,"y":0.985},{"p":7,"s":"0.5 SD","x":27,"y":0.985},{"p":7,"s":"0.5 SD","x":30,"y":0.99},{"p":7,"s":"0.5 SD","x":35,"y":0.995},{"p":7,"s":"0.5 SD","x":40,"y":1},
{"p":7,"s":"1.0 SD","x":1,"y":0},{"p":7,"s":"1.0 SD","x":2,"y":0.005},{"p":7,"s":"1.0 SD","x":3,"y":0.01},{"p":7,"s":"1.0 SD","x":4,"y":0.02},{"p":7,"s":"1.0 SD","x":5,"y":0.04},{"p":7,"s":"1.0 SD","x":6,"y":0.07},{"p":7,"s":"1.0 SD","x":7,"y":0.08},{"p":7,"s":"1.0 SD","x":8,"y":0.1},{"p":7,"s":"1.0 SD","x":9,"y":0.2},{"p":7,"s":"1.0 SD","x":10,"y":0.33},{"p":7,"s":"1.0 SD","x":11,"y":0.44},{"p":7,"s":"1.0 SD","x":12,"y":0.5},{"p":7,"s":"1.0 SD","x":13,"y":0.6},{"p":7,"s":"1.0 SD","x":14,"y":0.68},{"p":7,"s":"1.0 SD","x":15,"y":0.75},{"p":7,"s":"1.0 SD","x":16,"y":0.8},{"p":7,"s":"1.0 SD","x":17,"y":0.82},{"p":7,"s":"1.0 SD","x":18,"y":0.87},{"p":7,"s":"1.0 SD","x":19,"y":0.9},{"p":7,"s":"1.0 SD","x":20,"y":0.92},{"p":7,"s":"1.0 SD","x":21,"y":0.935},{"p":7,"s":"1.0 SD","x":22,"y":0.94},{"p":7,"s":"1.0 SD","x":23,"y":0.955},{"p":7,"s":"1.0 SD","x":24,"y":0.965},{"p":7,"s":"1.0 SD","x":25,"y":0.97},{"p":7,"s":"1.0 SD","x":27,"y":0.98},{"p":7,"s":"1.0 SD","x":30,"y":0.99},{"p":7,"s":"1.0 SD","x":35,"y":0.995},{"p":7,"s":"1.0 SD","x":40,"y":1},
{"p":7,"s":"2.0 SD","x":1,"y":0},{"p":7,"s":"2.0 SD","x":2,"y":0.003},{"p":7,"s":"2.0 SD","x":3,"y":0.006},{"p":7,"s":"2.0 SD","x":4,"y":0.01},{"p":7,"s":"2.0 SD","x":5,"y":0.02},{"p":7,"s":"2.0 SD","x":6,"y":0.04},{"p":7,"s":"2.0 SD","x":7,"y":0.06},{"p":7,"s":"2.0 SD","x":8,"y":0.09},{"p":7,"s":"2.0 SD","x":9,"y":0.13},{"p":7,"s":"2.0 SD","x":10,"y":0.18},{"p":7,"s":"2.0 SD","x":11,"y":0.26},{"p":7,"s":"2.0 SD","x":12,"y":0.35},{"p":7,"s":"2.0 SD","x":13,"y":0.43},{"p":7,"s":"2.0 SD","x":14,"y":0.52},{"p":7,"s":"2.0 SD","x":15,"y":0.6},{"p":7,"s":"2.0 SD","x":16,"y":0.67},{"p":7,"s":"2.0 SD","x":17,"y":0.72},{"p":7,"s":"2.0 SD","x":18,"y":0.78},{"p":7,"s":"2.0 SD","x":19,"y":0.82},{"p":7,"s":"2.0 SD","x":20,"y":0.85},{"p":7,"s":"2.0 SD","x":21,"y":0.88},{"p":7,"s":"2.0 SD","x":22,"y":0.9},{"p":7,"s":"2.0 SD","x":23,"y":0.92},{"p":7,"s":"2.0 SD","x":24,"y":0.935},{"p":7,"s":"2.0 SD","x":25,"y":0.95},{"p":7,"s":"2.0 SD","x":26,"y":0.96},{"p":7,"s":"2.0 SD","x":27,"y":0.97},{"p":7,"s":"2.0 SD","x":28,"y":0.975},{"p":7,"s":"2.0 SD","x":30,"y":0.985},{"p":7,"s":"2.0 SD","x":33,"y":0.99},{"p":7,"s":"2.0 SD","x":36,"y":0.995},{"p":7,"s":"2.0 SD","x":40,"y":1},

{"p":8,"s":"0.1 SD","x":1,"y":0},{"p":8,"s":"0.1 SD","x":2,"y":0.005},{"p":8,"s":"0.1 SD","x":3,"y":0.01},{"p":8,"s":"0.1 SD","x":4,"y":0.02},{"p":8,"s":"0.1 SD","x":5,"y":0.05},{"p":8,"s":"0.1 SD","x":6,"y":0.12},{"p":8,"s":"0.1 SD","x":7,"y":0.1},{"p":8,"s":"0.1 SD","x":8,"y":0.2},{"p":8,"s":"0.1 SD","x":9,"y":0.5},{"p":8,"s":"0.1 SD","x":10,"y":0.65},{"p":8,"s":"0.1 SD","x":11,"y":0.72},{"p":8,"s":"0.1 SD","x":12,"y":0.69},{"p":8,"s":"0.1 SD","x":13,"y":0.8},{"p":8,"s":"0.1 SD","x":14,"y":0.84},{"p":8,"s":"0.1 SD","x":15,"y":0.86},{"p":8,"s":"0.1 SD","x":16,"y":0.87},{"p":8,"s":"0.1 SD","x":17,"y":0.86},{"p":8,"s":"0.1 SD","x":18,"y":0.88},{"p":8,"s":"0.1 SD","x":19,"y":0.9},{"p":8,"s":"0.1 SD","x":20,"y":0.91},{"p":8,"s":"0.1 SD","x":21,"y":0.92},{"p":8,"s":"0.1 SD","x":22,"y":0.915},{"p":8,"s":"0.1 SD","x":23,"y":0.93},{"p":8,"s":"0.1 SD","x":24,"y":0.945},{"p":8,"s":"0.1 SD","x":25,"y":0.955},{"p":8,"s":"0.1 SD","x":26,"y":0.96},{"p":8,"s":"0.1 SD","x":27,"y":0.96},{"p":8,"s":"0.1 SD","x":28,"y":0.965},{"p":8,"s":"0.1 SD","x":30,"y":0.97},{"p":8,"s":"0.1 SD","x":35,"y":0.975},{"p":8,"s":"0.1 SD","x":40,"y":0.975},
{"p":8,"s":"Stochastic","x":1,"y":0},{"p":8,"s":"Stochastic","x":2,"y":0.005},{"p":8,"s":"Stochastic","x":3,"y":0.01},{"p":8,"s":"Stochastic","x":4,"y":0.02},{"p":8,"s":"Stochastic","x":5,"y":0.06},{"p":8,"s":"Stochastic","x":6,"y":0.11},{"p":8,"s":"Stochastic","x":7,"y":0.12},{"p":8,"s":"Stochastic","x":8,"y":0.25},{"p":8,"s":"Stochastic","x":9,"y":0.52},{"p":8,"s":"Stochastic","x":10,"y":0.68},{"p":8,"s":"Stochastic","x":11,"y":0.76},{"p":8,"s":"Stochastic","x":12,"y":0.75},{"p":8,"s":"Stochastic","x":13,"y":0.85},{"p":8,"s":"Stochastic","x":14,"y":0.9},{"p":8,"s":"Stochastic","x":15,"y":0.93},{"p":8,"s":"Stochastic","x":16,"y":0.95},{"p":8,"s":"Stochastic","x":17,"y":0.95},{"p":8,"s":"Stochastic","x":18,"y":0.965},{"p":8,"s":"Stochastic","x":20,"y":0.975},{"p":8,"s":"Stochastic","x":22,"y":0.98},{"p":8,"s":"Stochastic","x":25,"y":0.985},{"p":8,"s":"Stochastic","x":30,"y":0.99},{"p":8,"s":"Stochastic","x":40,"y":0.99},
{"p":8,"s":"0.5 SD","x":1,"y":0},{"p":8,"s":"0.5 SD","x":2,"y":0.005},{"p":8,"s":"0.5 SD","x":3,"y":0.01},{"p":8,"s":"0.5 SD","x":4,"y":0.02},{"p":8,"s":"0.5 SD","x":5,"y":0.05},{"p":8,"s":"0.5 SD","x":6,"y":0.1},{"p":8,"s":"0.5 SD","x":7,"y":0.1},{"p":8,"s":"0.5 SD","x":8,"y":0.16},{"p":8,"s":"0.5 SD","x":9,"y":0.38},{"p":8,"s":"0.5 SD","x":10,"y":0.52},{"p":8,"s":"0.5 SD","x":11,"y":0.62},{"p":8,"s":"0.5 SD","x":12,"y":0.64},{"p":8,"s":"0.5 SD","x":13,"y":0.73},{"p":8,"s":"0.5 SD","x":14,"y":0.8},{"p":8,"s":"0.5 SD","x":15,"y":0.85},{"p":8,"s":"0.5 SD","x":16,"y":0.88},{"p":8,"s":"0.5 SD","x":17,"y":0.88},{"p":8,"s":"0.5 SD","x":18,"y":0.91},{"p":8,"s":"0.5 SD","x":19,"y":0.93},{"p":8,"s":"0.5 SD","x":20,"y":0.945},{"p":8,"s":"0.5 SD","x":21,"y":0.955},{"p":8,"s":"0.5 SD","x":22,"y":0.955},{"p":8,"s":"0.5 SD","x":23,"y":0.965},{"p":8,"s":"0.5 SD","x":25,"y":0.975},{"p":8,"s":"0.5 SD","x":28,"y":0.985},{"p":8,"s":"0.5 SD","x":30,"y":0.99},{"p":8,"s":"0.5 SD","x":40,"y":0.995},
{"p":8,"s":"1.0 SD","x":1,"y":0},{"p":8,"s":"1.0 SD","x":2,"y":0.005},{"p":8,"s":"1.0 SD","x":3,"y":0.01},{"p":8,"s":"1.0 SD","x":4,"y":0.02},{"p":8,"s":"1.0 SD","x":5,"y":0.04},{"p":8,"s":"1.0 SD","x":6,"y":0.07},{"p":8,"s":"1.0 SD","x":7,"y":0.08},{"p":8,"s":"1.0 SD","x":8,"y":0.11},{"p":8,"s":"1.0 SD","x":9,"y":0.22},{"p":8,"s":"1.0 SD","x":10,"y":0.35},{"p":8,"s":"1.0 SD","x":11,"y":0.46},{"p":8,"s":"1.0 SD","x":12,"y":0.52},{"p":8,"s":"1.0 SD","x":13,"y":0.6},{"p":8,"s":"1.0 SD","x":14,"y":0.68},{"p":8,"s":"1.0 SD","x":15,"y":0.75},{"p":8,"s":"1.0 SD","x":16,"y":0.8},{"p":8,"s":"1.0 SD","x":17,"y":0.83},{"p":8,"s":"1.0 SD","x":18,"y":0.87},{"p":8,"s":"1.0 SD","x":19,"y":0.9},{"p":8,"s":"1.0 SD","x":20,"y":0.92},{"p":8,"s":"1.0 SD","x":21,"y":0.94},{"p":8,"s":"1.0 SD","x":22,"y":0.94},{"p":8,"s":"1.0 SD","x":23,"y":0.955},{"p":8,"s":"1.0 SD","x":25,"y":0.97},{"p":8,"s":"1.0 SD","x":28,"y":0.98},{"p":8,"s":"1.0 SD","x":30,"y":0.985},{"p":8,"s":"1.0 SD","x":35,"y":0.99},{"p":8,"s":"1.0 SD","x":40,"y":0.99},
{"p":8,"s":"2.0 SD","x":1,"y":0},{"p":8,"s":"2.0 SD","x":2,"y":0.003},{"p":8,"s":"2.0 SD","x":3,"y":0.006},{"p":8,"s":"2.0 SD","x":4,"y":0.01},{"p":8,"s":"2.0 SD","x":5,"y":0.02},{"p":8,"s":"2.0 SD","x":6,"y":0.04},{"p":8,"s":"2.0 SD","x":7,"y":0.06},{"p":8,"s":"2.0 SD","x":8,"y":0.08},{"p":8,"s":"2.0 SD","x":9,"y":0.12},{"p":8,"s":"2.0 SD","x":10,"y":0.18},{"p":8,"s":"2.0 SD","x":11,"y":0.26},{"p":8,"s":"2.0 SD","x":12,"y":0.34},{"p":8,"s":"2.0 SD","x":13,"y":0.43},{"p":8,"s":"2.0 SD","x":14,"y":0.52},{"p":8,"s":"2.0 SD","x":15,"y":0.6},{"p":8,"s":"2.0 SD","x":16,"y":0.68},{"p":8,"s":"2.0 SD","x":17,"y":0.74},{"p":8,"s":"2.0 SD","x":18,"y":0.8},{"p":8,"s":"2.0 SD","x":19,"y":0.85},{"p":8,"s":"2.0 SD","x":20,"y":0.88},{"p":8,"s":"2.0 SD","x":21,"y":0.91},{"p":8,"s":"2.0 SD","x":22,"y":0.92},{"p":8,"s":"2.0 SD","x":23,"y":0.94},{"p":8,"s":"2.0 SD","x":24,"y":0.95},{"p":8,"s":"2.0 SD","x":25,"y":0.96},{"p":8,"s":"2.0 SD","x":27,"y":0.97},{"p":8,"s":"2.0 SD","x":30,"y":0.98},{"p":8,"s":"2.0 SD","x":35,"y":0.985},{"p":8,"s":"2.0 SD","x":40,"y":0.99},

{"p":9,"s":"0.1 SD","x":1,"y":0},{"p":9,"s":"0.1 SD","x":2,"y":0.005},{"p":9,"s":"0.1 SD","x":3,"y":0.01},{"p":9,"s":"0.1 SD","x":4,"y":0.02},{"p":9,"s":"0.1 SD","x":5,"y":0.04},{"p":9,"s":"0.1 SD","x":6,"y":0.08},{"p":9,"s":"0.1 SD","x":7,"y":0.1},{"p":9,"s":"0.1 SD","x":8,"y":0.22},{"p":9,"s":"0.1 SD","x":9,"y":0.46},{"p":9,"s":"0.1 SD","x":10,"y":0.68},{"p":9,"s":"0.1 SD","x":11,"y":0.72},{"p":9,"s":"0.1 SD","x":12,"y":0.74},{"p":9,"s":"0.1 SD","x":13,"y":0.8},{"p":9,"s":"0.1 SD","x":14,"y":0.83},{"p":9,"s":"0.1 SD","x":15,"y":0.845},{"p":9,"s":"0.1 SD","x":16,"y":0.855},{"p":9,"s":"0.1 SD","x":17,"y":0.86},{"p":9,"s":"0.1 SD","x":18,"y":0.875},{"p":9,"s":"0.1 SD","x":19,"y":0.89},{"p":9,"s":"0.1 SD","x":20,"y":0.9},{"p":9,"s":"0.1 SD","x":21,"y":0.91},{"p":9,"s":"0.1 SD","x":22,"y":0.915},{"p":9,"s":"0.1 SD","x":23,"y":0.925},{"p":9,"s":"0.1 SD","x":24,"y":0.935},{"p":9,"s":"0.1 SD","x":25,"y":0.94},{"p":9,"s":"0.1 SD","x":27,"y":0.95},{"p":9,"s":"0.1 SD","x":30,"y":0.96},{"p":9,"s":"0.1 SD","x":33,"y":0.965},{"p":9,"s":"0.1 SD","x":36,"y":0.97},{"p":9,"s":"0.1 SD","x":40,"y":0.97},
{"p":9,"s":"Stochastic","x":1,"y":0},{"p":9,"s":"Stochastic","x":2,"y":0.005},{"p":9,"s":"Stochastic","x":3,"y":0.01},{"p":9,"s":"Stochastic","x":4,"y":0.02},{"p":9,"s":"Stochastic","x":5,"y":0.05},{"p":9,"s":"Stochastic","x":6,"y":0.09},{"p":9,"s":"Stochastic","x":7,"y":0.12},{"p":9,"s":"Stochastic","x":8,"y":0.28},{"p":9,"s":"Stochastic","x":9,"y":0.52},{"p":9,"s":"Stochastic","x":10,"y":0.75},{"p":9,"s":"Stochastic","x":11,"y":0.77},{"p":9,"s":"Stochastic","x":12,"y":0.8},{"p":9,"s":"Stochastic","x":13,"y":0.88},{"p":9,"s":"Stochastic","x":14,"y":0.93},{"p":9,"s":"Stochastic","x":15,"y":0.95},{"p":9,"s":"Stochastic","x":16,"y":0.96},{"p":9,"s":"Stochastic","x":17,"y":0.965},{"p":9,"s":"Stochastic","x":18,"y":0.975},{"p":9,"s":"Stochastic","x":20,"y":0.98},{"p":9,"s":"Stochastic","x":22,"y":0.985},{"p":9,"s":"Stochastic","x":25,"y":0.99},{"p":9,"s":"Stochastic","x":30,"y":0.995},{"p":9,"s":"Stochastic","x":40,"y":0.995},
{"p":9,"s":"0.5 SD","x":1,"y":0},{"p":9,"s":"0.5 SD","x":2,"y":0.005},{"p":9,"s":"0.5 SD","x":3,"y":0.01},{"p":9,"s":"0.5 SD","x":4,"y":0.02},{"p":9,"s":"0.5 SD","x":5,"y":0.04},{"p":9,"s":"0.5 SD","x":6,"y":0.08},{"p":9,"s":"0.5 SD","x":7,"y":0.1},{"p":9,"s":"0.5 SD","x":8,"y":0.18},{"p":9,"s":"0.5 SD","x":9,"y":0.34},{"p":9,"s":"0.5 SD","x":10,"y":0.5},{"p":9,"s":"0.5 SD","x":11,"y":0.6},{"p":9,"s":"0.5 SD","x":12,"y":0.66},{"p":9,"s":"0.5 SD","x":13,"y":0.74},{"p":9,"s":"0.5 SD","x":14,"y":0.81},{"p":9,"s":"0.5 SD","x":15,"y":0.87},{"p":9,"s":"0.5 SD","x":16,"y":0.9},{"p":9,"s":"0.5 SD","x":17,"y":0.92},{"p":9,"s":"0.5 SD","x":18,"y":0.94},{"p":9,"s":"0.5 SD","x":19,"y":0.95},{"p":9,"s":"0.5 SD","x":20,"y":0.96},{"p":9,"s":"0.5 SD","x":22,"y":0.97},{"p":9,"s":"0.5 SD","x":25,"y":0.98},{"p":9,"s":"0.5 SD","x":28,"y":0.985},{"p":9,"s":"0.5 SD","x":30,"y":0.99},{"p":9,"s":"0.5 SD","x":40,"y":0.995},
{"p":9,"s":"1.0 SD","x":1,"y":0},{"p":9,"s":"1.0 SD","x":2,"y":0.005},{"p":9,"s":"1.0 SD","x":3,"y":0.01},{"p":9,"s":"1.0 SD","x":4,"y":0.02},{"p":9,"s":"1.0 SD","x":5,"y":0.03},{"p":9,"s":"1.0 SD","x":6,"y":0.06},{"p":9,"s":"1.0 SD","x":7,"y":0.08},{"p":9,"s":"1.0 SD","x":8,"y":0.12},{"p":9,"s":"1.0 SD","x":9,"y":0.2},{"p":9,"s":"1.0 SD","x":10,"y":0.28},{"p":9,"s":"1.0 SD","x":11,"y":0.36},{"p":9,"s":"1.0 SD","x":12,"y":0.44},{"p":9,"s":"1.0 SD","x":13,"y":0.56},{"p":9,"s":"1.0 SD","x":14,"y":0.68},{"p":9,"s":"1.0 SD","x":15,"y":0.77},{"p":9,"s":"1.0 SD","x":16,"y":0.83},{"p":9,"s":"1.0 SD","x":17,"y":0.86},{"p":9,"s":"1.0 SD","x":18,"y":0.88},{"p":9,"s":"1.0 SD","x":19,"y":0.9},{"p":9,"s":"1.0 SD","x":20,"y":0.92},{"p":9,"s":"1.0 SD","x":21,"y":0.935},{"p":9,"s":"1.0 SD","x":22,"y":0.94},{"p":9,"s":"1.0 SD","x":23,"y":0.95},{"p":9,"s":"1.0 SD","x":25,"y":0.96},{"p":9,"s":"1.0 SD","x":28,"y":0.975},{"p":9,"s":"1.0 SD","x":30,"y":0.98},{"p":9,"s":"1.0 SD","x":35,"y":0.985},{"p":9,"s":"1.0 SD","x":40,"y":0.99},
{"p":9,"s":"2.0 SD","x":1,"y":0},{"p":9,"s":"2.0 SD","x":2,"y":0.003},{"p":9,"s":"2.0 SD","x":3,"y":0.006},{"p":9,"s":"2.0 SD","x":4,"y":0.01},{"p":9,"s":"2.0 SD","x":5,"y":0.02},{"p":9,"s":"2.0 SD","x":6,"y":0.04},{"p":9,"s":"2.0 SD","x":7,"y":0.07},{"p":9,"s":"2.0 SD","x":8,"y":0.1},{"p":9,"s":"2.0 SD","x":9,"y":0.15},{"p":9,"s":"2.0 SD","x":10,"y":0.22},{"p":9,"s":"2.0 SD","x":11,"y":0.3},{"p":9,"s":"2.0 SD","x":12,"y":0.4},{"p":9,"s":"2.0 SD","x":13,"y":0.5},{"p":9,"s":"2.0 SD","x":14,"y":0.6},{"p":9,"s":"2.0 SD","x":15,"y":0.69},{"p":9,"s":"2.0 SD","x":16,"y":0.76},{"p":9,"s":"2.0 SD","x":17,"y":0.81},{"p":9,"s":"2.0 SD","x":18,"y":0.85},{"p":9,"s":"2.0 SD","x":19,"y":0.88},{"p":9,"s":"2.0 SD","x":20,"y":0.9},{"p":9,"s":"2.0 SD","x":21,"y":0.92},{"p":9,"s":"2.0 SD","x":22,"y":0.93},{"p":9,"s":"2.0 SD","x":23,"y":0.94},{"p":9,"s":"2.0 SD","x":25,"y":0.955},{"p":9,"s":"2.0 SD","x":28,"y":0.97},{"p":9,"s":"2.0 SD","x":30,"y":0.975},{"p":9,"s":"2.0 SD","x":35,"y":0.985},{"p":9,"s":"2.0 SD","x":40,"y":0.99}
]},
"data":{"name":"d"},
"resolve":{"scale":{"strokeDash":"independent"},"legend":{"strokeDash":"independent"}},
"concat":[
{"width":178,"height":169,"transform":[{"filter":"datum.p == 1"}],"mark":{"type":"line","color":"black","strokeWidth":1.6},
 "encoding":{"x":{"field":"x","type":"quantitative","scale":{"domain":[-2,42],"nice":false,"zero":false},"axis":{"orient":"top","labels":false,"ticks":false,"domain":false,"title":"α = 1.0","titlePadding":4.5}},
 "y":{"field":"y","type":"quantitative","scale":{"domain":[-0.055,1.055],"nice":false,"zero":false},"axis":{"values":[0,0.1,0.2,0.3,0.4,0.5,0.6,0.7,0.8,0.9,1],"labelExpr":"datum.value==0||datum.value==0.5||datum.value==1?format(datum.value,'.1f'):''","labelOverlap":false,"labelPadding":8,"title":null}},
 "strokeDash":{"field":"s","type":"nominal","scale":{"domain":["0.1 SD","0.5 SD","1.0 SD","2.0 SD","Stochastic"],"range":[[1,0],[4,4],[10,4],[9,7,2,7],[2,6]]},"legend":null}}},
{"width":178,"height":169,"transform":[{"filter":"datum.p == 2"}],"mark":{"type":"line","color":"black","strokeWidth":1.6},
 "encoding":{"x":{"field":"x","type":"quantitative","scale":{"domain":[-2,42],"nice":false,"zero":false},"axis":{"orient":"top","labels":false,"ticks":false,"domain":false,"title":"α = 0.1","titlePadding":4.5}},
 "y":{"field":"y","type":"quantitative","scale":{"domain":[-0.055,1.055],"nice":false,"zero":false},"axis":null},
 "strokeDash":{"field":"s","type":"nominal","scale":{"domain":["0.1 SD","0.5 SD","1.0 SD","2.0 SD","Stochastic"],"range":[[1,0],[4,4],[10,4],[9,7,2,7],[2,6]]},"legend":null}}},
{"width":178,"height":169,"transform":[{"filter":"datum.p == 3"}],"mark":{"type":"line","color":"black","strokeWidth":1.6},
 "encoding":{"x":{"field":"x","type":"quantitative","scale":{"domain":[-2,42],"nice":false,"zero":false},"axis":{"orient":"top","labels":false,"ticks":false,"domain":false,"title":"α = 0.05","titlePadding":4.5}},
 "y":{"field":"y","type":"quantitative","scale":{"domain":[-0.055,1.055],"nice":false,"zero":false},"axis":{"orient":"right","labels":false,"ticks":false,"domain":false,"title":"No broadcasts","titleAngle":270,"titleBaseline":"top","titleAlign":"center","titlePadding":12}},
 "strokeDash":{"field":"s","type":"nominal","scale":{"domain":["0.1 SD","0.5 SD","1.0 SD","2.0 SD","Stochastic"],"range":[[1,0],[4,4],[10,4],[9,7,2,7],[2,6]]},"legend":null}}},
{"width":178,"height":169,"transform":[{"filter":"datum.p == 4"}],"mark":{"type":"line","color":"black","strokeWidth":1.6},
 "encoding":{"x":{"field":"x","type":"quantitative","scale":{"domain":[-2,42],"nice":false,"zero":false},"axis":null},
 "y":{"field":"y","type":"quantitative","scale":{"domain":[-0.055,1.055],"nice":false,"zero":false},"axis":{"values":[0,0.1,0.2,0.3,0.4,0.5,0.6,0.7,0.8,0.9,1],"labelExpr":"datum.value==0||datum.value==0.5||datum.value==1?format(datum.value,'.1f'):''","labelOverlap":false,"labelPadding":8,"title":"Extremist P(H|E)","titleFontSize":21,"titlePadding":12}},
 "strokeDash":{"field":"s","type":"nominal","scale":{"domain":["0.1 SD","0.5 SD","1.0 SD","2.0 SD","Stochastic"],"range":[[1,0],[4,4],[10,4],[9,7,2,7],[2,6]]},"legend":null}}},
{"width":178,"height":169,"transform":[{"filter":"datum.p == 5"}],"mark":{"type":"line","color":"black","strokeWidth":1.6},
 "encoding":{"x":{"field":"x","type":"quantitative","scale":{"domain":[-2,42],"nice":false,"zero":false},"axis":null},
 "y":{"field":"y","type":"quantitative","scale":{"domain":[-0.055,1.055],"nice":false,"zero":false},"axis":null},
 "strokeDash":{"field":"s","type":"nominal","scale":{"domain":["0.1 SD","0.5 SD","1.0 SD","2.0 SD","Stochastic"],"range":[[1,0],[4,4],[10,4],[9,7,2,7],[2,6]]},"legend":null}}},
{"width":178,"height":169,"transform":[{"filter":"datum.p == 6"}],"mark":{"type":"line","color":"black","strokeWidth":1.6},
 "encoding":{"x":{"field":"x","type":"quantitative","scale":{"domain":[-2,42],"nice":false,"zero":false},"axis":null},
 "y":{"field":"y","type":"quantitative","scale":{"domain":[-0.055,1.055],"nice":false,"zero":false},"axis":{"orient":"right","labels":false,"ticks":false,"domain":false,"title":["Broadcast every","10 iterations"],"titleAngle":270,"titlePadding":8,"titleLineHeight":21}},
 "strokeDash":{"field":"s","type":"nominal","scale":{"domain":["0.1 SD","0.5 SD","1.0 SD","2.0 SD","Stochastic"],"range":[[1,0],[4,4],[10,4],[9,7,2,7],[2,6]]},"legend":null}}},
{"width":178,"height":169,"transform":[{"filter":"datum.p == 7"}],"mark":{"type":"line","color":"black","strokeWidth":1.6},
 "encoding":{"x":{"field":"x","type":"quantitative","scale":{"domain":[-2,42],"nice":false,"zero":false},"axis":{"values":[0,10,20,30,40],"title":"Iteration number","labelPadding":6,"titlePadding":16,"labelFlush":false}},
 "y":{"field":"y","type":"quantitative","scale":{"domain":[-0.055,1.055],"nice":false,"zero":false},"axis":{"values":[0,0.1,0.2,0.3,0.4,0.5,0.6,0.7,0.8,0.9,1],"labelExpr":"datum.value==0||datum.value==0.5||datum.value==1?format(datum.value,'.1f'):''","labelOverlap":false,"labelPadding":8,"title":null}},
 "strokeDash":{"field":"s","type":"nominal","scale":{"domain":["0.1 SD","0.5 SD","1.0 SD","2.0 SD","Stochastic"],"range":[[1,0],[4,4],[10,4],[9,7,2,7],[2,6]]},"legend":null}}},
{"width":178,"height":169,"transform":[{"filter":"datum.p == 8"}],"mark":{"type":"line","color":"black","strokeWidth":1.6},
 "encoding":{"x":{"field":"x","type":"quantitative","scale":{"domain":[-2,42],"nice":false,"zero":false},"axis":{"values":[0,10,20,30,40],"title":"Iteration number","labelPadding":6,"titlePadding":16,"labelFlush":false}},
 "y":{"field":"y","type":"quantitative","scale":{"domain":[-0.055,1.055],"nice":false,"zero":false},"axis":null},
 "strokeDash":{"field":"s","type":"nominal","scale":{"domain":["0.1 SD","0.5 SD","1.0 SD","2.0 SD","Stochastic"],"range":[[1,0],[4,4],[10,4],[9,7,2,7],[2,6]]},"legend":null}}},
{"width":178,"height":169,"transform":[{"filter":"datum.p == 9"}],"mark":{"type":"line","color":"black","strokeWidth":1.6},
 "encoding":{"x":{"field":"x","type":"quantitative","scale":{"domain":[-2,42],"nice":false,"zero":false},"axis":{"values":[0,10,20,30,40],"title":"Iteration number","labelPadding":6,"titlePadding":16,"labelFlush":false}},
 "y":{"field":"y","type":"quantitative","scale":{"domain":[-0.055,1.055],"nice":false,"zero":false},"axis":{"orient":"right","labels":false,"ticks":false,"domain":false,"title":["Broadcast every","5 iterations"],"titleAngle":270,"titlePadding":8,"titleLineHeight":21}},
 "strokeDash":{"field":"s","type":"nominal","scale":{"domain":["0.1 SD","0.5 SD","1.0 SD","2.0 SD","Stochastic"],"range":[[1,0],[4,4],[10,4],[9,7,2,7],[2,6]]},"legend":{"orient":"none","legendX":77,"legendY":72,"title":null,"labelFontSize":13.5,"labelColor":"black","labelFont":"Liberation Sans","labelAlign":"right","labelOffset":69,"symbolType":"stroke","symbolSize":440,"symbolStrokeWidth":2,"symbolStrokeColor":"black","rowPadding":-3.5,"padding":0}}}}
],
"config":{
 "font":"Liberation Sans",
 "view":{"stroke":"#8c8c8c","strokeWidth":1.5},
 "axis":{"grid":false,"domain":false,"tickColor":"#8c8c8c","tickSize":4,"tickWidth":1,"labelColor":"black","titleColor":"black","labelFontSize":19,"titleFontSize":19.5,"titleFontWeight":"normal","labelFont":"Liberation Sans","titleFont":"Liberation Sans"},
 "title":{"fontSize":19.5,"fontWeight":"normal","color":"black","font":"Liberation Sans"}
}
}
